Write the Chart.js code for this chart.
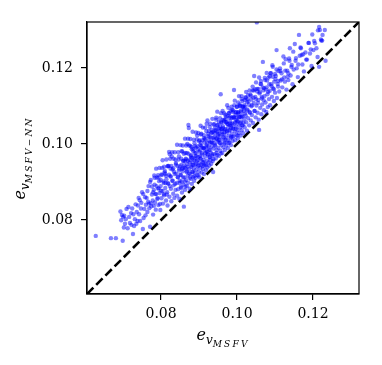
<!DOCTYPE html>
<html>
<head>
<meta charset="utf-8">
<script src="https://cdn.jsdelivr.net/npm/chart.js@4.4.0/dist/chart.umd.min.js"></script>
<style>
  body { margin: 0; background: #fff; }
  canvas { display: block; }
</style>
</head>
<body>
<canvas id="grafico" width="382" height="365"></canvas>
<script>
// erro do MSFV (eixo x) e erro do MSFV-NN (eixo y)
const eMSFV = [
  // x < 0.076
  0.0628, 0.0668, 0.0681, 0.0699, 0.0697, 0.0700, 0.0695, 0.0703, 0.0709, 0.0718,
  0.0722, 0.0726, 0.0712, 0.0731, 0.0736, 0.0742, 0.0745, 0.0750, 0.0748, 0.0739,
  0.0752, 0.0756, 0.0758, 0.0729, 0.0716, 0.0705, 0.0733, 0.0744, 0.0754, 0.0760,
  0.0721, 0.0738,
  // 0.076 - 0.085
  0.0762, 0.0764, 0.0767, 0.0768, 0.0771, 0.0771, 0.0773, 0.0774, 0.0776, 0.0778,
  0.0779, 0.0781, 0.0783, 0.0784, 0.0786, 0.0787, 0.0789, 0.0790, 0.0792, 0.0793,
  0.0795, 0.0796, 0.0798, 0.0799, 0.0801, 0.0802, 0.0804, 0.0805, 0.0807, 0.0808,
  0.0810, 0.0811, 0.0813, 0.0814, 0.0816, 0.0817, 0.0819, 0.0820, 0.0822, 0.0823,
  0.0824, 0.0826, 0.0827, 0.0829, 0.0830, 0.0832, 0.0833, 0.0835, 0.0836, 0.0838,
  0.0839, 0.0841, 0.0842, 0.0844, 0.0845, 0.0847, 0.0848, 0.0849,
  // 0.085 - 0.094
  0.0851, 0.0852, 0.0853, 0.0854, 0.0855, 0.0857, 0.0858, 0.0859, 0.0860, 0.0861,
  0.0862, 0.0863, 0.0865, 0.0866, 0.0867, 0.0868, 0.0869, 0.0870, 0.0871, 0.0872,
  0.0873, 0.0874, 0.0875, 0.0876, 0.0877, 0.0878, 0.0879, 0.0880, 0.0881, 0.0882,
  0.0883, 0.0884, 0.0885, 0.0886, 0.0887, 0.0888, 0.0889, 0.0890, 0.0891, 0.0892,
  0.0893, 0.0894, 0.0895, 0.0896, 0.0897, 0.0898, 0.0899, 0.0900, 0.0901, 0.0902,
  0.0903, 0.0904, 0.0905, 0.0906, 0.0907, 0.0908, 0.0909, 0.0910, 0.0911, 0.0912,
  0.0913, 0.0914, 0.0915, 0.0916, 0.0917, 0.0918, 0.0919, 0.0920, 0.0921, 0.0922,
  0.0923, 0.0924, 0.0925, 0.0926, 0.0927, 0.0928, 0.0929, 0.0930, 0.0931, 0.0932,
  0.0933, 0.0934, 0.0935, 0.0936, 0.0937, 0.0938, 0.0939,
  // 0.094 - 0.1025
  0.0941, 0.0942, 0.0943, 0.0944, 0.0945, 0.0946, 0.0947, 0.0948, 0.0949, 0.0950,
  0.0951, 0.0952, 0.0953, 0.0954, 0.0955, 0.0956, 0.0957, 0.0958, 0.0959, 0.0960,
  0.0961, 0.0962, 0.0963, 0.0964, 0.0965, 0.0966, 0.0967, 0.0968, 0.0969, 0.0970,
  0.0971, 0.0972, 0.0973, 0.0974, 0.0975, 0.0976, 0.0977, 0.0978, 0.0979, 0.0980,
  0.0981, 0.0982, 0.0983, 0.0984, 0.0985, 0.0986, 0.0987, 0.0988, 0.0989, 0.0990,
  0.0991, 0.0992, 0.0993, 0.0994, 0.0995, 0.0996, 0.0997, 0.0998, 0.0999, 0.1000,
  0.1001, 0.1002, 0.1003, 0.1004, 0.1005, 0.1006, 0.1007, 0.1008, 0.1009, 0.1010,
  0.1011, 0.1012, 0.1013, 0.1014, 0.1015, 0.1016, 0.1018, 0.1019, 0.1020, 0.1021,
  0.1023, 0.1024,
  // 0.1025 - 0.111
  0.1026, 0.1027, 0.1029, 0.1030, 0.1032, 0.1033, 0.1035, 0.1036, 0.1038, 0.1039,
  0.1041, 0.1042, 0.1044, 0.1045, 0.1046, 0.1048, 0.1049, 0.1051, 0.1052, 0.1053,
  0.1054, 0.1056, 0.1057, 0.1058, 0.1059, 0.1061, 0.1062, 0.1064, 0.1065, 0.1066,
  0.1068, 0.1069, 0.1071, 0.1072, 0.1074, 0.1075, 0.1077, 0.1078, 0.1080, 0.1081,
  0.1083, 0.1084, 0.1086, 0.1087, 0.1089, 0.1090, 0.1092, 0.1094, 0.1095, 0.1097,
  0.1098, 0.1100, 0.1102, 0.1104, 0.1105, 0.1107, 0.1108, 0.1109,
  // > 0.111
  0.1111, 0.1113, 0.1115, 0.1117, 0.1119, 0.1122, 0.1124, 0.1126, 0.1128, 0.1130,
  0.1132, 0.1135, 0.1135, 0.1137, 0.1139, 0.1141, 0.1144, 0.1146, 0.1149, 0.1152,
  0.1154, 0.1157, 0.1160, 0.1163, 0.1165, 0.1167, 0.1170, 0.1172, 0.1176, 0.1180,
  0.1184, 0.1188, 0.1192, 0.1196, 0.1198, 0.1201, 0.1205, 0.1209, 0.1212, 0.1216,
  0.1216, 0.1218, 0.1221, 0.1224, 0.1225, 0.1231, 0.1233
];

const eMSFVNN = [
  // x < 0.076
  0.0758, 0.0752, 0.0752, 0.0745, 0.0813, 0.0808, 0.0799, 0.0811, 0.0829, 0.0792,
  0.0787, 0.0763, 0.0778, 0.0802, 0.0821, 0.0815, 0.0797, 0.0873, 0.0845, 0.0838,
  0.0776, 0.0829, 0.0860, 0.0784, 0.0808, 0.0790, 0.0841, 0.0852, 0.0805, 0.0840,
  0.0818, 0.0797,
  // 0.076 - 0.085
  0.0858, 0.0821, 0.0889, 0.0843, 0.0900, 0.0782, 0.0905, 0.0836, 0.0867, 0.0851,
  0.0814, 0.0879, 0.0893, 0.0846, 0.0827, 0.0868, 0.0911, 0.0855, 0.0883, 0.0839,
  0.0902, 0.0871, 0.0826, 0.0889, 0.0857, 0.0918, 0.0876, 0.0843, 0.0897, 0.0865,
  0.0929, 0.0884, 0.0851, 0.0907, 0.0873, 0.0838, 0.0895, 0.0942, 0.0861, 0.0973,
  0.0915, 0.0882, 0.0849, 0.0903, 0.0933, 0.0869, 0.0891, 0.0858, 0.0921, 0.0879,
  0.0946, 0.0897, 0.0864, 0.0912, 0.0881, 0.0930, 0.0856, 0.0903,
  // 0.085 - 0.094
  0.0919, 0.0887, 0.0945, 0.0901, 0.0872, 0.0928, 0.0955, 0.0893, 0.0835, 0.0912,
  0.0938, 0.0879, 0.0961, 0.0905, 0.0926, 0.0889, 0.0947, 0.0916, 0.0898, 0.1050,
  0.1042, 0.0934, 0.0882, 0.0958, 0.0921, 0.0908, 0.0971, 0.0940, 0.0895, 0.0927,
  0.0952, 0.0913, 0.0986, 0.0936, 0.0903, 0.0962, 0.0924, 0.0945, 0.0911, 0.0977,
  0.0933, 0.0955, 0.0918, 0.0994, 0.0941, 0.0966, 0.0927, 0.0950, 0.0912, 0.0983,
  0.0937, 0.0961, 0.1003, 0.0945, 0.0925, 0.0972, 0.0952, 0.0934, 0.0989, 0.0958,
  0.0921, 0.0943, 0.1012, 0.0967, 0.0948, 0.0931, 0.0979, 0.0996, 0.0956, 0.0938,
  0.0972, 0.1021, 0.0951, 0.0985, 0.0943, 0.0965, 0.1004, 0.0958, 0.0977, 0.0948,
  0.0993, 0.1030, 0.0969, 0.0955, 0.0926, 0.0988, 0.1011,
  // 0.094 - 0.1025
  0.0973, 0.0998, 0.1037, 0.0962, 0.1015, 0.0984, 0.1049, 0.0971, 0.1006, 0.1026,
  0.0990, 0.0968, 0.1041, 0.1003, 0.1019, 0.0982, 0.1131, 0.1058, 0.0997, 0.1032,
  0.0976, 0.1012, 0.1047, 0.0991, 0.1025, 0.1064, 0.1004, 0.0984, 0.1039, 0.1017,
  0.1072, 0.0996, 0.1030, 0.1053, 0.1009, 0.0989, 0.1044, 0.1022, 0.1081, 0.1003,
  0.1036, 0.1060, 0.1015, 0.0997, 0.1049, 0.1027, 0.1090, 0.1008, 0.1041, 0.1068,
  0.1020, 0.1142, 0.1054, 0.1033, 0.1010, 0.1076, 0.1046, 0.1025, 0.1098, 0.1061,
  0.1037, 0.1015, 0.1083, 0.1052, 0.1029, 0.1070, 0.1104, 0.1043, 0.1022, 0.1088,
  0.1059, 0.1036, 0.1075, 0.1113, 0.1049, 0.1028, 0.1093, 0.1066, 0.1044, 0.1080,
  0.1121, 0.1057,
  // 0.1025 - 0.111
  0.1035, 0.1091, 0.1068, 0.1112, 0.1049, 0.1084, 0.1130, 0.1062, 0.1099, 0.1076,
  0.1141, 0.1055, 0.1108, 0.1179, 0.1087, 0.1124, 0.1070, 0.1101, 0.1320, 0.1145,
  0.1082, 0.1116, 0.1064, 0.1037, 0.1133, 0.1095, 0.1158, 0.1078, 0.1120, 0.1104,
  0.1216, 0.1141, 0.1089, 0.1126, 0.1168, 0.1109, 0.1084, 0.1149, 0.1131, 0.1097,
  0.1175, 0.1118, 0.1140, 0.1102, 0.1186, 0.1157, 0.1124, 0.1203, 0.1146, 0.1113,
  0.1164, 0.1135, 0.1179, 0.1247, 0.1121, 0.1158, 0.1151, 0.1192,
  // > 0.111
  0.1138, 0.1199, 0.1167, 0.1186, 0.1149, 0.1230, 0.1175, 0.1164, 0.1223, 0.1143,
  0.1193, 0.1186, 0.1168, 0.1225, 0.1252, 0.1180, 0.1208, 0.1157, 0.1196, 0.1263,
  0.1219, 0.1199, 0.1176, 0.1287, 0.1232, 0.1254, 0.1234, 0.1209, 0.1191, 0.1241,
  0.1222, 0.1266, 0.1238, 0.1205, 0.1288, 0.1247, 0.1265, 0.1252, 0.1229, 0.1308,
  0.1203, 0.1300, 0.1275, 0.1272, 0.1287, 0.1300, 0.1219
];

// segundo lote de pontos (regiao densa do meio)
const eMSFV2 = [
  0.0693, 0.0702, 0.0707, 0.0714, 0.0724, 0.0727, 0.0735, 0.0741, 0.0747, 0.0753,
  0.0759, 0.0764, 0.0766, 0.0769,
  0.0773, 0.0776, 0.0779, 0.0781, 0.0783, 0.0785, 0.0788, 0.0791, 0.0793, 0.0794,
  0.0797, 0.0799, 0.0800, 0.0803, 0.0806, 0.0807, 0.0809, 0.0812, 0.0813, 0.0815,
  0.0818, 0.0818, 0.0821, 0.0823, 0.0825, 0.0826, 0.0828, 0.0831, 0.0832, 0.0834,
  0.0837, 0.0838, 0.0840, 0.0843, 0.0844, 0.0846, 0.0848, 0.0849,
  0.0850, 0.0852, 0.0853, 0.0855, 0.0856, 0.0858, 0.0859, 0.0861, 0.0862, 0.0864,
  0.0865, 0.0866, 0.0868, 0.0869, 0.0871, 0.0872, 0.0874, 0.0875, 0.0877, 0.0878,
  0.0880, 0.0881, 0.0882, 0.0884, 0.0885, 0.0887, 0.0888, 0.0889, 0.0891, 0.0892,
  0.0893, 0.0895, 0.0896, 0.0897, 0.0899, 0.0900, 0.0901, 0.0903, 0.0904, 0.0905,
  0.0907, 0.0908, 0.0909, 0.0911, 0.0912, 0.0913, 0.0915, 0.0916, 0.0917, 0.0919,
  0.0920, 0.0921, 0.0923, 0.0924, 0.0925, 0.0927, 0.0928, 0.0929, 0.0931, 0.0932,
  0.0933, 0.0935, 0.0936, 0.0937, 0.0939, 0.0940, 0.0941, 0.0943, 0.0944, 0.0945,
  0.0947, 0.0948, 0.0949,
  0.0951, 0.0952, 0.0954, 0.0955, 0.0956, 0.0958, 0.0959, 0.0961, 0.0962, 0.0963,
  0.0965, 0.0966, 0.0968, 0.0969, 0.0970, 0.0972, 0.0973, 0.0975, 0.0976, 0.0977,
  0.0979, 0.0980, 0.0982, 0.0983, 0.0984, 0.0986, 0.0987, 0.0989, 0.0990, 0.0992,
  0.0993, 0.0995, 0.0996, 0.0997, 0.0999, 0.1000, 0.1002, 0.1003, 0.1005, 0.1006,
  0.1008, 0.1009, 0.1011, 0.1012, 0.1014, 0.1015, 0.1017, 0.1018, 0.1020, 0.1021,
  0.1023, 0.1024, 0.1026, 0.1027, 0.1029,
  0.1031, 0.1034, 0.1036, 0.1039, 0.1041, 0.1043, 0.1046, 0.1048, 0.1050, 0.1053,
  0.1055, 0.1058, 0.1060, 0.1063, 0.1065, 0.1068, 0.1070, 0.1073, 0.1076, 0.1079,
  0.1082, 0.1085, 0.1088, 0.1091, 0.1094, 0.1097, 0.1101, 0.1104, 0.1108,
  0.1114, 0.1118, 0.1123, 0.1127, 0.1133, 0.1138, 0.1143, 0.1148, 0.1155, 0.1161,
  0.1168, 0.1174, 0.1182, 0.1189, 0.1194, 0.1203, 0.1213, 0.1222
];

const eMSFVNN2 = [
  0.0822, 0.0780, 0.0802, 0.0834, 0.0830, 0.0815, 0.0790, 0.0858, 0.0830, 0.0868,
  0.0812, 0.0876, 0.0848, 0.0831,
  0.0844, 0.0888, 0.0873, 0.0837, 0.0911, 0.0868, 0.0889, 0.0858, 0.0912, 0.0883,
  0.0842, 0.0905, 0.0877, 0.0937, 0.0901, 0.0868, 0.0925, 0.0897, 0.0916, 0.0867,
  0.0942, 0.0897, 0.0919, 0.0889, 0.0935, 0.0914, 0.0967, 0.0903, 0.0936, 0.0927,
  0.0895, 0.0959, 0.0922, 0.0942, 0.0913, 0.0959, 0.0935, 0.0897,
  0.0941, 0.0918, 0.0961, 0.0934, 0.0980, 0.0912, 0.0956, 0.0944, 0.0901, 0.0976,
  0.0936, 0.0959, 0.0928, 0.1000, 0.0956, 0.0974, 0.0923, 0.0951, 0.0995, 0.0968,
  0.0944, 0.0986, 0.0963, 0.0927, 0.0981, 0.0957, 0.1002, 0.0976, 0.0948, 0.0991,
  0.0968, 0.1022, 0.0958, 0.0986, 0.0944, 0.1007, 0.0979, 0.0997, 0.0962, 0.1025,
  0.0991, 0.0976, 0.1010, 0.0952, 0.0988, 0.1023, 0.1003, 0.0976, 0.1014, 0.0992,
  0.1053, 0.1003, 0.0973, 0.1027, 0.0994, 0.1018, 0.1045, 0.0984, 0.1017, 0.1004,
  0.1037, 0.0973, 0.1016, 0.1032, 0.1002, 0.1052, 0.1019, 0.0995, 0.1034, 0.1069,
  0.1014, 0.1032, 0.1050,
  0.1010, 0.1040, 0.1028, 0.1068, 0.1002, 0.1039, 0.1056, 0.1025, 0.1087, 0.1042,
  0.1017, 0.1059, 0.1038, 0.1077, 0.1011, 0.1057, 0.1034, 0.1074, 0.1052, 0.1095,
  0.1035, 0.1069, 0.1054, 0.1087, 0.1019, 0.1069, 0.1053, 0.1084, 0.1040, 0.1070,
  0.1102, 0.1057, 0.1083, 0.1040, 0.1070, 0.1098, 0.1059, 0.1083, 0.1126, 0.1071,
  0.1055, 0.1100, 0.1085, 0.1118, 0.1072, 0.1098, 0.1056, 0.1087, 0.1116, 0.1098,
  0.1075, 0.1137, 0.1110, 0.1088, 0.1128,
  0.1103, 0.1082, 0.1127, 0.1102, 0.1151, 0.1122, 0.1087, 0.1144, 0.1118, 0.1138,
  0.1108, 0.1175, 0.1136, 0.1157, 0.1124, 0.1149, 0.1115, 0.1174, 0.1143, 0.1167,
  0.1137, 0.1157, 0.1186, 0.1152, 0.1177, 0.1144, 0.1171, 0.1196, 0.1166,
  0.1192, 0.1170, 0.1212, 0.1193, 0.1177, 0.1219, 0.1203, 0.1243, 0.1226, 0.1209,
  0.1252, 0.1236, 0.1222, 0.1266, 0.1249, 0.1271, 0.1299, 0.1272
];

// terceiro lote (borda de cima da nuvem, borda de baixo e centro)
const eMSFV3 = [
  0.0782, 0.0787, 0.0792, 0.0796, 0.0801, 0.0804, 0.0808, 0.0811, 0.0814, 0.0817,
  0.0821, 0.0824, 0.0827, 0.0829, 0.0833, 0.0836, 0.0839, 0.0842, 0.0845, 0.0847,
  0.0851, 0.0854, 0.0857, 0.0860, 0.0863, 0.0866, 0.0868, 0.0871, 0.0874, 0.0877,
  0.0880, 0.0883, 0.0886, 0.0889, 0.0892, 0.0894, 0.0898, 0.0901, 0.0904, 0.0906,
  0.0910, 0.0913, 0.0916, 0.0919, 0.0922, 0.0926, 0.0929, 0.0932, 0.0935, 0.0938,
  0.0942, 0.0945, 0.0948, 0.0952, 0.0955, 0.0958, 0.0962, 0.0966, 0.0970, 0.0974,
  0.0978, 0.0982, 0.0986, 0.0990, 0.0994, 0.0998, 0.1003, 0.1007, 0.1012, 0.1016,
  0.1022, 0.1028, 0.1033, 0.1038, 0.1044, 0.1050, 0.1057, 0.1063, 0.1071, 0.1078,
  0.1086, 0.1093, 0.1100,
  0.0853, 0.0864, 0.0876, 0.0887, 0.0898, 0.0909, 0.0918, 0.0928, 0.0938, 0.0946,
  0.0957, 0.0967, 0.0978, 0.0988, 0.1001, 0.1013,
  0.0857, 0.0863, 0.0870, 0.0879, 0.0884, 0.0890, 0.0902, 0.0906, 0.0914, 0.0921,
  0.0926, 0.0934, 0.0941, 0.0950, 0.0953, 0.0960, 0.0967, 0.0971, 0.0981, 0.0985,
  0.0991, 0.0998, 0.1004, 0.1010, 0.1019
];

const eMSFVNN3 = [
  0.0917, 0.0935, 0.0918, 0.0937, 0.0920, 0.0957, 0.0940, 0.0921, 0.0959, 0.0941,
  0.0979, 0.0961, 0.0942, 0.0978, 0.0961, 0.0978, 0.0950, 0.0998, 0.0978, 0.0967,
  0.0997, 0.0981, 0.0996, 0.0974, 0.1014, 0.0996, 0.0976, 0.1014, 0.0996, 0.1013,
  0.0992, 0.1032, 0.1011, 0.0994, 0.1030, 0.1012, 0.1029, 0.1010, 0.1048, 0.1027,
  0.1043, 0.1016, 0.1043, 0.1034, 0.1062, 0.1034, 0.1053, 0.1028, 0.1066, 0.1051,
  0.1042, 0.1064, 0.1085, 0.1058, 0.1047, 0.1081, 0.1063, 0.1081, 0.1065, 0.1102,
  0.1081, 0.1072, 0.1098, 0.1088, 0.1114, 0.1084, 0.1109, 0.1100, 0.1126, 0.1098,
  0.1123, 0.1118, 0.1141, 0.1117, 0.1141, 0.1162, 0.1145, 0.1166, 0.1147, 0.1187,
  0.1178, 0.1207, 0.1184,
  0.0884, 0.0888, 0.0911, 0.0915, 0.0917, 0.0942, 0.0944, 0.0965, 0.0960, 0.0976,
  0.0975, 0.1001, 0.1003, 0.1019, 0.1022, 0.1049,
  0.0936, 0.0955, 0.0940, 0.0964, 0.0945, 0.0968, 0.0968, 0.0995, 0.0988, 0.0981,
  0.1009, 0.1003, 0.1028, 0.1022, 0.1011, 0.1039, 0.1031, 0.1057, 0.1049, 0.1042,
  0.1071, 0.1063, 0.1079, 0.1071, 0.1102
];

const tickVals = [0.08, 0.10, 0.12];
const limites = [0.0605, 0.1321];

const todosX = eMSFV.concat(eMSFV2, eMSFV3);
const todosY = eMSFVNN.concat(eMSFVNN2, eMSFVNN3);
const pontos = todosX.map(function (x, i) {
  return { x: x, y: todosY[i] };
});

// desenha texto com subscritos (e_{v_{...}})
function textoMat(ctx, partes, cx, base) {
  var total = 0;
  partes.forEach(function (p) {
    ctx.font = "italic " + p.size + "px 'DejaVu Serif'";
    p.w = 0;
    for (var c of p.t) {
      p.w += ctx.measureText(c).width + (p.sp || 0);
    }
    total += p.w;
  });
  var x = cx - total / 2;
  ctx.fillStyle = "#000";
  ctx.textBaseline = "alphabetic";
  ctx.textAlign = "left";
  partes.forEach(function (p) {
    ctx.font = "italic " + p.size + "px 'DejaVu Serif'";
    for (var c of p.t) {
      ctx.fillText(c, x, base + p.dy);
      x += ctx.measureText(c).width + (p.sp || 0);
    }
  });
}

const moldura = {
  id: "moldura",
  afterDatasetsDraw(chart) {
    const ctx = chart.ctx;
    const a = chart.chartArea;
    ctx.save();
    ctx.strokeStyle = "#000";
    ctx.lineWidth = 1.2;
    ctx.strokeRect(a.left, a.top, a.right - a.left, a.bottom - a.top);
    ctx.restore();
  },
  afterDraw(chart) {
    const ctx = chart.ctx;
    const a = chart.chartArea;
    const meio = (a.left + a.right) / 2;
    ctx.save();
    textoMat(ctx, [
      { t: "e", size: 16, dy: 0 },
      { t: "v", size: 12, dy: 4 },
      { t: "MSFV", size: 9, dy: 7, sp: 2.2 }
    ], meio, 340);
    ctx.restore();

    ctx.save();
    ctx.translate(25, (a.top + a.bottom) / 2);
    ctx.rotate(-Math.PI / 2);
    textoMat(ctx, [
      { t: "e", size: 16, dy: 0 },
      { t: "v", size: 12, dy: 4 },
      { t: "MSFV\u2212NN", size: 9, dy: 7, sp: 2.2 }
    ], 0, 0);
    ctx.restore();
  }
};

function eixo() {
  return {
    type: "linear",
    min: limites[0],
    max: limites[1],
    afterBuildTicks: function (s) {
      s.ticks = tickVals.map(function (v) { return { value: v }; });
    },
    ticks: {
      color: "#000",
      font: { family: "'DejaVu Serif'", size: 14 },
      padding: 6,
      autoSkip: false,
      maxRotation: 0,
      callback: function (v) { return v.toFixed(2); }
    },
    grid: { drawOnChartArea: false, tickLength: 6, color: "#000", lineWidth: 1.2 },
    border: { display: true, color: "#000", width: 1.2 }
  };
}

const eixoX = eixo();
eixoX.afterFit = function (s) { s.height = 71; };
const eixoY = eixo();
eixoY.afterFit = function (s) { s.width = 87; };
eixoY.ticks.padding = 8;

new Chart(document.getElementById("grafico"), {
  type: "scatter",
  data: {
    datasets: [
      {
        label: "dados",
        data: pontos,
        pointRadius: 2.2,
        pointHoverRadius: 2.2,
        borderWidth: 0,
        backgroundColor: "rgba(0, 0, 255, 0.5)"
      },
      {
        type: "line",
        label: "y = x",
        data: [
          { x: limites[0], y: limites[0] },
          { x: limites[1], y: limites[1] }
        ],
        borderColor: "#000",
        borderWidth: 2.6,
        borderDash: [9, 4],
        pointRadius: 0,
        fill: false
      }
    ]
  },
  options: {
    responsive: false,
    animation: false,
    devicePixelRatio: 1,
    layout: { padding: { top: 22, right: 23, left: 0, bottom: 0 } },
    plugins: { legend: { display: false }, tooltip: { enabled: false } },
    scales: { x: eixoX, y: eixoY }
  },
  plugins: [moldura]
});
</script>
</body>
</html>
